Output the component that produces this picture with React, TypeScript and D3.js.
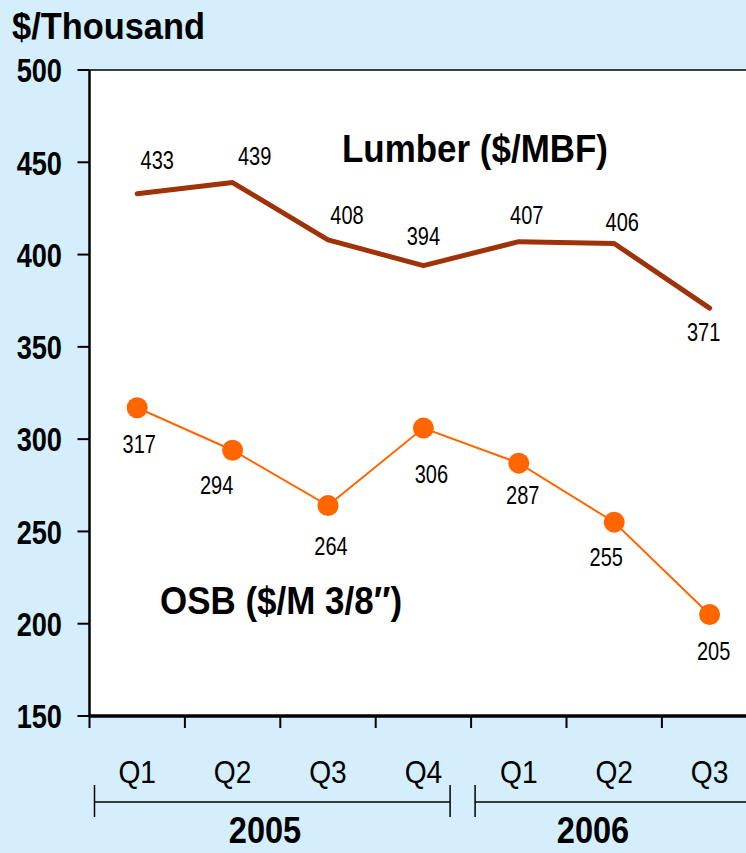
import * as d3 from 'd3';

const quarters = ['Q1', 'Q2', 'Q3', 'Q4', 'Q1', 'Q2', 'Q3'];
const years = ['2005', '2006'];
const yearQuarters = [4, 3];
const lumber = [433, 439, 408, 394, 407, 406, 371];
const osb = [317, 294, 264, 306, 287, 255, 205];
const yTicks = [150, 200, 250, 300, 350, 400, 450, 500];

// label offsets (dx, dy) relative to each point
const lumberOff = [[20, -34], [22, -27], [19, -25], [0, -30], [8, -27], [8, -22], [-6, 24]];
const osbOff = [[2, 36], [-16, 35], [3, 40], [8, 46], [4, 32], [-8, 35], [4, 37]];

const W = 746;
const H = 853;
const FONT = '"Liberation Sans", Arial, Helvetica, sans-serif';

// condensed text: squeeze horizontally like the original narrow face
function T({ x, y, size, bold = false, sx = 0.82, anchor = 'start', children }: any) {
  return (
    <text
      transform={`translate(${x},${y}) scale(${sx},1)`}
      dy="0.36em"
      fontSize={size}
      fontWeight={bold ? 'bold' : 'normal'}
      textAnchor={anchor}
      fill="#000"
    >
      {children}
    </text>
  );
}

export default function App() {
  const left = 89.5;
  const step = 95.4;
  const x = d3.scaleBand<number>()
    .domain(quarters.map((_, i) => i))
    .range([left, left + step * quarters.length])
    .paddingInner(0)
    .paddingOuter(0);
  const y = d3.scaleLinear().domain([150, 500]).range([716, 70]);
  const cx = (i: number) => (x(i) as number) + x.bandwidth() / 2;

  const line = d3.line<number>()
    .x((_, i) => cx(i))
    .y(d => y(d));

  // year brackets
  let start = 0;
  const brackets = years.map((yr, k) => {
    const n = yearQuarters[k];
    const x0 = (x(start) as number) + (k === 0 ? 5 : 4);
    const x1 = (x(start + n - 1) as number) + x.bandwidth() - (k === 0 ? 21 : -40);
    const mid = k === 0 ? 265 : 593;
    start += n;
    return { yr, x0, x1, mid, k };
  });

  return (
    <svg width={W} height={H} style={{ position: 'absolute', left: 0, top: 0 }} fontFamily={FONT}>
      <rect x={0} y={0} width={W} height={H} fill="#d4eefc" />
      <rect x={left} y={y(500)} width={W - left} height={y(150) - y(500)} fill="#ffffff" />
      <T x={12} y={26} size={37} bold sx={0.93}>$/Thousand</T>

      {/* y axis */}
      <line x1={left} x2={W} y1={y(500)} y2={y(500)} stroke="#000" strokeWidth={1.5} />
      <line x1={left} x2={left} y1={y(500)} y2={y(150)} stroke="#000" strokeWidth={2.5} />
      {yTicks.map(t => (
        <g key={t}>
          <line x1={left - 12} x2={left} y1={y(t)} y2={y(t)} stroke="#000" strokeWidth={2} />
          <T x={62} y={y(t)} size={34} bold sx={0.8} anchor="end">{t}</T>
        </g>
      ))}

      {/* x axis */}
      <line x1={left} x2={W} y1={y(150)} y2={y(150)} stroke="#000" strokeWidth={3.5} />
      {quarters.map((q, i) => (
        <g key={i}>
          <line x1={x(i)} x2={x(i)} y1={y(150)} y2={y(150) + 12} stroke="#000" strokeWidth={2} />
          <T x={cx(i)} y={771} size={32} sx={0.88} anchor="middle">{q}</T>
        </g>
      ))}
      {brackets.map(b => (
        <g key={b.yr}>
          <line x1={b.x0} x2={b.x1} y1={802} y2={802} stroke="#000" strokeWidth={1.5} />
          <line x1={b.x0} x2={b.x0} y1={785} y2={817} stroke="#000" strokeWidth={1.5} />
          {b.k === 0 && <line x1={b.x1} x2={b.x1} y1={785} y2={817} stroke="#000" strokeWidth={1.5} />}
          <T x={b.mid} y={830} size={37} bold sx={0.88} anchor="middle">{b.yr}</T>
        </g>
      ))}

      {/* lumber */}
      <path d={line(lumber) as string} fill="none" stroke="#9e3208" strokeWidth={5} strokeLinecap="round" strokeLinejoin="round" />
      {lumber.map((v, i) => (
        <T key={i} x={cx(i) + lumberOff[i][0]} y={y(v) + lumberOff[i][1]} size={25} sx={0.8} anchor="middle">{v}</T>
      ))}
      <T x={342} y={148} size={38} bold sx={0.92}>Lumber ($/MBF)</T>

      {/* OSB */}
      <path d={line(osb) as string} fill="none" stroke="#ff6600" strokeWidth={2} />
      {osb.map((v, i) => (
        <g key={i}>
          <circle cx={cx(i)} cy={y(v)} r={10.5} fill="#ff6600" />
          <T x={cx(i) + osbOff[i][0]} y={y(v) + osbOff[i][1]} size={25} sx={0.8} anchor="middle">{v}</T>
        </g>
      ))}
      <T x={160} y={600} size={38} bold sx={0.92}>OSB ($/M 3/8″)</T>
    </svg>
  );
}
